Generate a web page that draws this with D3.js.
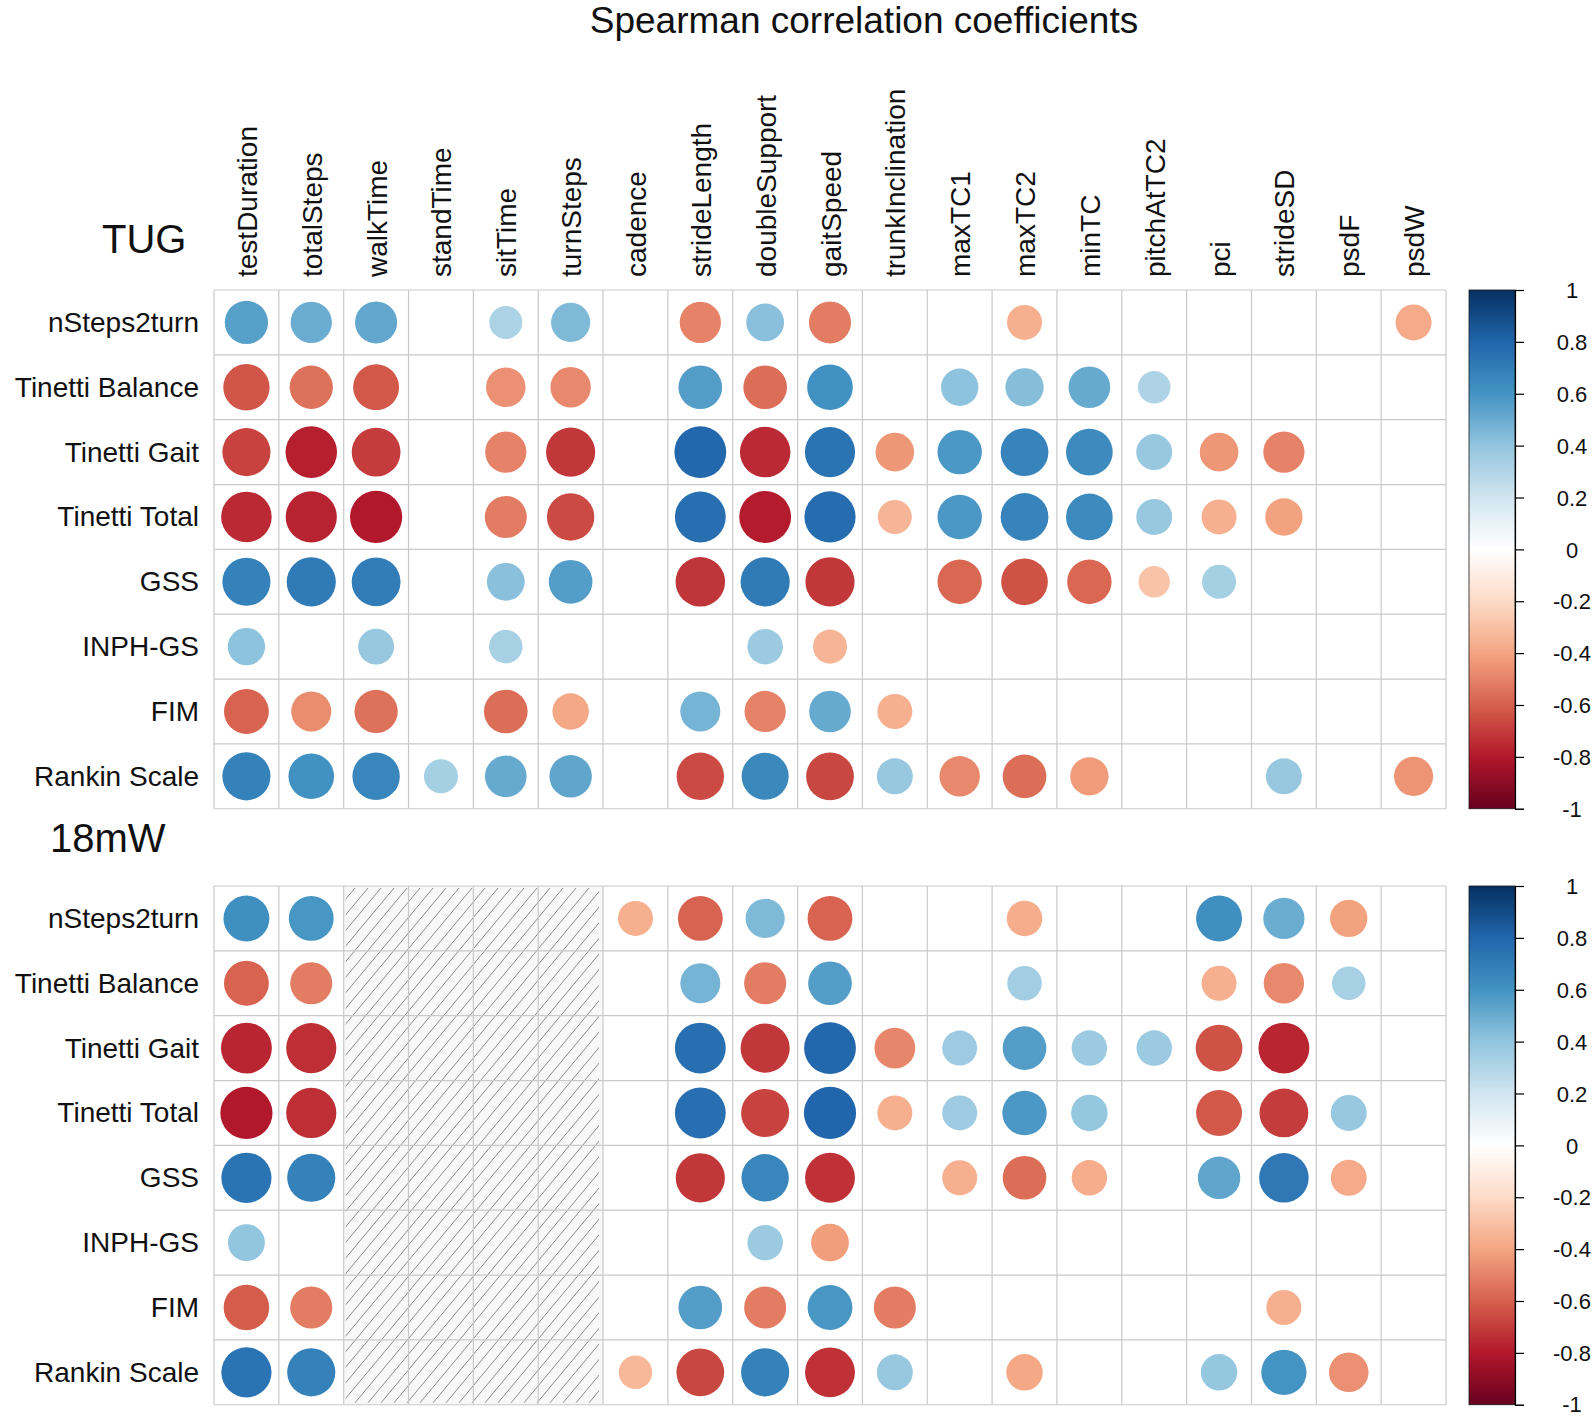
<!DOCTYPE html>
<html>
<head>
<meta charset="utf-8">
<script src="https://cdn.jsdelivr.net/npm/d3@7"></script>
<style>
  body { margin: 0; background: #fff; }
  text { font-family: "Liberation Sans", Arial, sans-serif; fill: #111; }
</style>
</head>
<body>
<div id="my_dataviz"></div>
<script>
// gait parameters (columns) and clinical scales (rows)
const columns = ["testDuration", "totalSteps", "walkTime", "standTime", "sitTime", "turnSteps",
  "cadence", "strideLength", "doubleSupport", "gaitSpeed", "trunkInclination", "maxTC1",
  "maxTC2", "minTC", "pitchAtTC2", "pci", "strideSD", "psdF", "psdW"];
const rows = ["nSteps2turn", "Tinetti Balance", "Tinetti Gait", "Tinetti Total", "GSS",
  "INPH-GS", "FIM", "Rankin Scale"];

// TUG test, significant coefficients only (null = blank cell)
const tugValues = [
  [0.55, 0.50, 0.52, null, 0.32, 0.45, null, -0.50, 0.42, -0.52, null, null, -0.36, null, null, null, null, null, -0.38],
  [-0.63, -0.55, -0.62, null, -0.46, -0.48, null, 0.56, -0.56, 0.61, null, 0.41, 0.43, 0.51, 0.31, null, null, null, null],
  [-0.68, -0.78, -0.70, null, -0.50, -0.71, null, 0.79, -0.75, 0.74, -0.44, 0.58, 0.67, 0.64, 0.38, -0.44, -0.50, null, null],
  [-0.75, -0.77, -0.80, null, -0.52, -0.66, null, 0.76, -0.79, 0.77, -0.34, 0.58, 0.67, 0.64, 0.38, -0.36, -0.41, null, null],
  [0.68, 0.71, 0.70, null, 0.42, 0.56, null, -0.72, 0.71, -0.71, null, -0.58, -0.64, -0.58, -0.29, 0.34, null, null, null],
  [0.41, null, 0.38, null, 0.33, null, null, null, 0.37, -0.34, null, null, null, null, null, null, null, null, null],
  [-0.59, -0.47, -0.55, null, -0.56, -0.39, null, 0.47, -0.50, 0.51, -0.36, null, null, null, null, null, null, null, null],
  [0.68, 0.61, 0.66, 0.34, 0.51, 0.53, null, -0.66, 0.65, -0.67, 0.38, -0.48, -0.56, -0.43, null, null, 0.38, null, -0.45]
];

// 18 m walk test; walkTime..turnSteps not available (hatched)
const mwValues = [
  [0.62, 0.59, null, null, null, null, -0.36, -0.59, 0.45, -0.59, null, null, -0.37, null, null, 0.62, 0.50, -0.41, null],
  [-0.59, -0.52, null, null, null, null, null, 0.47, -0.52, 0.56, null, null, 0.35, null, null, -0.36, -0.48, 0.33, null],
  [-0.76, -0.74, null, null, null, null, null, 0.76, -0.71, 0.79, -0.49, 0.36, 0.56, 0.37, 0.37, -0.64, -0.76, null, null],
  [-0.80, -0.74, null, null, null, null, null, 0.76, -0.68, 0.80, -0.36, 0.36, 0.58, 0.39, null, -0.62, -0.70, 0.38, null],
  [0.74, 0.68, null, null, null, null, null, -0.71, 0.66, -0.73, null, -0.36, -0.56, -0.37, null, 0.53, 0.72, -0.38, null],
  [0.40, null, null, null, null, null, null, null, 0.37, -0.42, null, null, null, null, null, null, null, null, null],
  [-0.61, -0.52, null, null, null, null, null, 0.56, -0.52, 0.59, -0.52, null, null, null, null, null, -0.36, null, null],
  [0.74, 0.68, null, null, null, null, -0.33, -0.67, 0.68, -0.73, 0.38, null, -0.39, null, null, 0.39, 0.60, -0.46, null]
];
const mwMissing = ["walkTime", "standTime", "sitTime", "turnSteps"];

const legendTicks = [1, 0.8, 0.6, 0.4, 0.2, 0, -0.2, -0.4, -0.6, -0.8, -1];
// corrplot COL2("RdBu") anchors, from -1 to 1
const palette = ["#67001F", "#B2182B", "#D6604D", "#F4A582", "#FDDBC7", "#FFFFFF",
  "#D1E5F0", "#92C5DE", "#4393C3", "#2166AC", "#053061"];

const W = 1593, H = 1416;
const gridLeft = 214, gridRight = 1446;
const panels = [
  { name: "TUG", values: tugValues, top: 290, labelX: 102, labelY: 253, missing: [] },
  { name: "18mW", values: mwValues, top: 886, labelX: 50, labelY: 852, missing: mwMissing }
];

const svg = d3.select("#my_dataviz")
  .append("svg")
  .attr("width", W)
  .attr("height", H);

const x = d3.scaleBand().domain(columns).range([gridLeft, gridRight]);
const cell = x.bandwidth();
const color = d3.scaleLinear()
  .domain(palette.map((_, i) => -1 + i * 0.2))
  .range(palette)
  .interpolate(d3.interpolateRgb);
// circle area ~ |r|, full cell circle = 0.9 of cell
const radius = d3.scaleSqrt().domain([0, 1]).range([0, cell * 0.45]);

svg.append("text")
  .attr("x", 864)
  .attr("y", 33)
  .attr("text-anchor", "middle")
  .style("font-size", "37px")
  .text("Spearman correlation coefficients");

// column labels (only above first panel)
svg.append("g")
  .selectAll("text")
  .data(columns)
  .join("text")
  .attr("transform", d => `translate(${x(d) + cell / 2 + 1},277) rotate(-90)`)
  .attr("dominant-baseline", "central")
  .style("font-size", "28px")
  .text(d => d);

const defs = svg.append("defs");

panels.forEach((p, pi) => {
  const y = d3.scaleBand().domain(rows).range([p.top, p.top + cell * rows.length]);
  const g = svg.append("g");

  g.append("text")
    .attr("x", p.labelX)
    .attr("y", p.labelY)
    .style("font-size", "40px")
    .text(p.name);

  g.append("g")
    .selectAll("text")
    .data(rows)
    .join("text")
    .attr("x", 199)
    .attr("y", d => y(d) + cell / 2)
    .attr("text-anchor", "end")
    .attr("dominant-baseline", "central")
    .style("font-size", "28px")
    .text(d => d);

  // hatched block for parameters not measured
  if (p.missing.length) {
    const hx0 = x(p.missing[0]);
    const hx1 = x(p.missing[p.missing.length - 1]) + cell;
    const hy0 = y.range()[0], hy1 = y.range()[1];
    defs.append("clipPath")
      .attr("id", "hatch-clip-" + pi)
      .append("rect")
      .attr("x", hx0 + 2).attr("y", hy0 + 2)
      .attr("width", hx1 - hx0 - 6).attr("height", hy1 - hy0 - 4);
    g.append("rect")
      .attr("x", hx0).attr("y", hy0)
      .attr("width", hx1 - hx0).attr("height", hy1 - hy0)
      .attr("fill", "#f8f8f8");
    const step = 13, rise = hy1 - hy0, run = rise / 1.2;
    const offsets = d3.range(hx0 - run, hx1 + step, step);
    g.append("g")
      .attr("clip-path", `url(#hatch-clip-${pi})`)
      .selectAll("line")
      .data(offsets)
      .join("line")
      .attr("x1", d => d).attr("y1", hy1)
      .attr("x2", d => d + run).attr("y2", hy0)
      .attr("stroke", "#707070")
      .attr("stroke-width", 0.8);
  }

  // grid
  const grid = g.append("g").attr("stroke", "#c9c9c9").attr("stroke-width", 1.2);
  grid.selectAll("line.v")
    .data(d3.range(columns.length + 1))
    .join("line")
    .attr("class", "v")
    .attr("x1", i => gridLeft + i * cell).attr("x2", i => gridLeft + i * cell)
    .attr("y1", y.range()[0]).attr("y2", y.range()[1]);
  grid.selectAll("line.h")
    .data(d3.range(rows.length + 1))
    .join("line")
    .attr("class", "h")
    .attr("x1", gridLeft).attr("x2", gridRight)
    .attr("y1", i => p.top + i * cell).attr("y2", i => p.top + i * cell);

  const cells = [];
  p.values.forEach((vals, ri) => vals.forEach((v, ci) => {
    if (v !== null) cells.push({ row: rows[ri], col: columns[ci], v });
  }));

  g.append("g")
    .selectAll("circle")
    .data(cells)
    .join("circle")
    .attr("cx", d => x(d.col) + cell / 2)
    .attr("cy", d => y(d.row) + cell / 2)
    .attr("r", d => radius(Math.abs(d.v)))
    .attr("fill", d => color(d.v));

  // colour legend
  const lx = 1469, lw = 46;
  const ly = d3.scaleLinear().domain([-1, 1]).range([y.range()[1], y.range()[0]]);
  const gradId = "grad-" + pi;
  const grad = defs.append("linearGradient")
    .attr("id", gradId)
    .attr("x1", 0).attr("y1", 1).attr("x2", 0).attr("y2", 0);
  grad.selectAll("stop")
    .data(palette)
    .join("stop")
    .attr("offset", (_, i) => i / (palette.length - 1))
    .attr("stop-color", d => d);
  g.append("rect")
    .attr("x", lx).attr("y", ly(1))
    .attr("width", lw).attr("height", ly(-1) - ly(1))
    .attr("fill", `url(#${gradId})`)
    .attr("stroke", "#1a1a1a")
    .attr("stroke-width", 0.8);

  const axis = g.append("g")
    .attr("transform", `translate(${lx + lw},0)`)
    .call(d3.axisRight(ly).tickValues(legendTicks).tickSize(9).tickFormat(d => String(d)));
  axis.select(".domain").attr("stroke", "#000").attr("stroke-width", 1.2);
  axis.selectAll(".tick line").attr("stroke", "#000").attr("stroke-width", 1.2);
  axis.selectAll(".tick text")
    .attr("x", 57)
    // keep the lowest label of the last legend inside the page
    .attr("y", d => (d === -1 && ly(-1) + 12 > H) ? H - 12 - ly(-1) : 0)
    .attr("dy", "0.35em")
    .attr("text-anchor", "middle")
    .style("font-family", "\"Liberation Sans\", Arial, sans-serif")
    .style("font-size", "22px")
    .attr("fill", "#111");
});
</script>
</body>
</html>
